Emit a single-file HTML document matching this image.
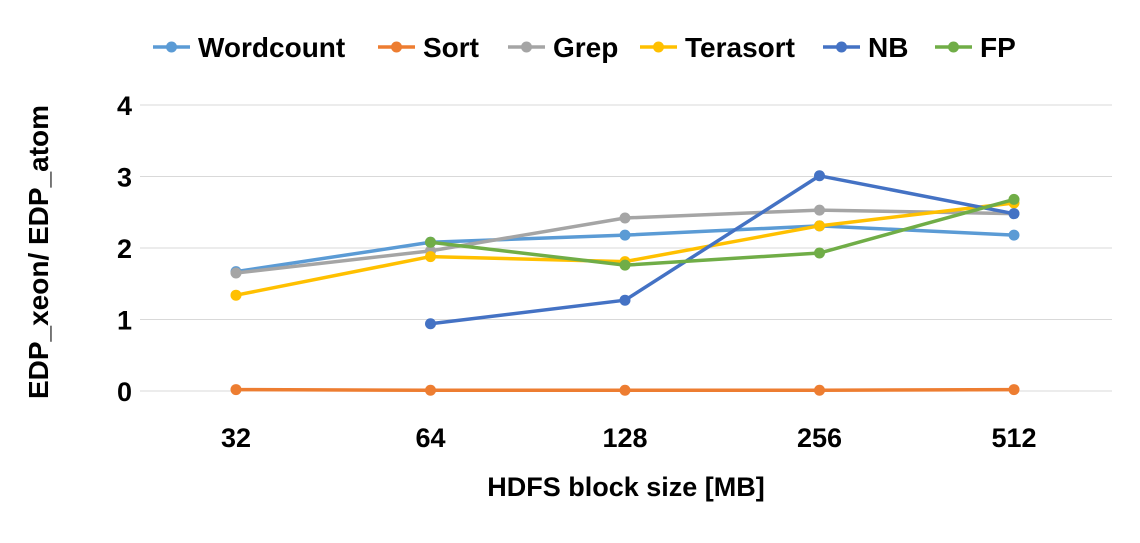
<!DOCTYPE html>
<html><head><meta charset="utf-8"><style>
body{margin:0;background:#fff;}
svg text{font-family:"Liberation Sans",sans-serif;font-weight:bold;fill:#000;}
</style></head><body>
<svg id="chart" width="1140" height="538"></svg>
<script>
const categories=["32","64","128","256","512"];
const seriesNames=["Wordcount","Sort","Grep","Terasort","NB","FP"];
const wordcount=[1.67,2.08,2.18,2.31,2.18];
const sort=[0.02,0.01,0.01,0.01,0.02];
const grep=[1.65,1.96,2.42,2.53,2.48];
const terasort=[1.34,1.88,1.81,2.31,2.63];
const nb=[null,0.94,1.27,3.01,2.48];
const fp=[null,2.08,1.76,1.93,2.68];
const yTicks=[0,1,2,3,4];
const colors=["#5B9BD5","#ED7D31","#A5A5A5","#FFC000","#4472C4","#70AD47"];
const allSeries=[wordcount,sort,grep,terasort,nb,fp];
const NS="http://www.w3.org/2000/svg";
const svg=document.getElementById('chart');
function el(t,a,p){const e=document.createElementNS(NS,t);for(const k in a)e.setAttribute(k,a[k]);(p||svg).appendChild(e);return e;}
const x0=236,dx=194.5;
function xs(i){return x0+i*dx;}
function ys(v){return 391-v*71.5;}
yTicks.forEach(t=>{
 if(t>0){const g=el('line',{x1:140,x2:1112,y1:ys(t),y2:ys(t),stroke:'#d9d9d9','stroke-width':1});
 
 }
 const l=el('text',{x:132,y:ys(t)+10,'text-anchor':'end','font-size':27});l.textContent=t;
 
 
});
const ax=el('line',{x1:140,x2:1112,y1:391,y2:391,stroke:'#d9d9d9','stroke-width':1});


categories.forEach((c,i)=>{
 const l=el('text',{x:xs(i),y:447,'text-anchor':'middle','font-size':27});l.textContent=c;
 
 
});
const xt=el('text',{x:626,y:496,'text-anchor':'middle','font-size':27});xt.textContent='HDFS block size [MB]';


const yt=el('text',{x:0,y:0,'text-anchor':'middle','font-size':28,transform:'translate(48,252) rotate(-90)'});yt.textContent='EDP_xeon/ EDP_atom';


allSeries.forEach((s,k)=>{
 let d='';s.forEach((v,i)=>{if(v==null)return;d+=(d?'L':'M')+xs(i)+','+ys(v);});
 const p=el('path',{d:d,fill:'none',stroke:colors[k],'stroke-width':3.5,'stroke-linejoin':'round'});
 
 
 s.forEach((v,i)=>{if(v==null)return;
  const c=el('circle',{cx:xs(i),cy:ys(v),r:5.5,fill:colors[k]});
  
  });
});
const lx=[153,378,508,640,823,935];
seriesNames.forEach((n,k)=>{
 const g=el('g',{});
 
 
 el('line',{x1:lx[k],x2:lx[k]+37,y1:47,y2:47,stroke:colors[k],'stroke-width':3.5},g);
 el('circle',{cx:lx[k]+18.5,cy:47,r:5.5,fill:colors[k]},g);
 const t=el('text',{x:lx[k]+45,y:57,'font-size':28},g);t.textContent=n;
});
</script>
</body></html>
